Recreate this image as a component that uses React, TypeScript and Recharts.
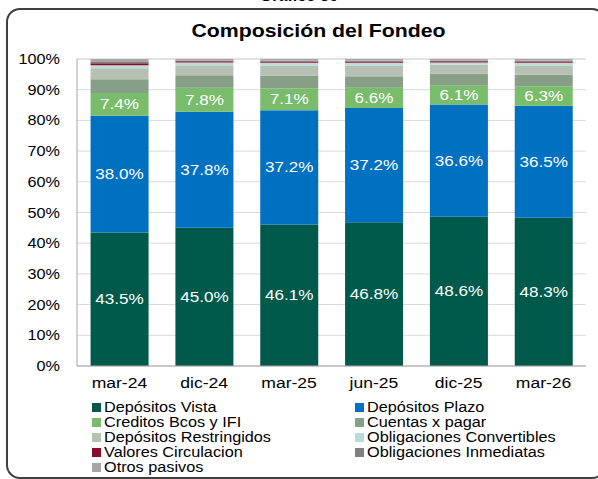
import { BarChart, Bar, XAxis, YAxis, CartesianGrid, LabelList } from 'recharts';

const periods = ['mar-24', 'dic-24', 'mar-25', 'jun-25', 'dic-25', 'mar-26'];

// shares in % of total funding, bottom to top of each stack
const depositosVista = [43.5, 45.0, 46.1, 46.8, 48.6, 48.3];
const depositosPlazo = [38.0, 37.8, 37.2, 37.2, 36.6, 36.5];
const creditosBcos = [7.4, 7.8, 7.1, 6.6, 6.1, 6.3];
const cuentasPagar = [4.5, 4.1, 4.2, 3.8, 3.9, 3.8];
const depositosRestringidos = [3.6, 3.3, 3.2, 3.4, 2.9, 2.9];
const obligacionesConvertibles = [1.0, 0.9, 1.0, 1.0, 0.8, 1.0];
const valoresCirculacion = [0.6, 0.4, 0.4, 0.4, 0.4, 0.4];
const obligacionesInmediatas = [0.4, 0.2, 0.2, 0.2, 0.2, 0.2];
const otrosPasivos = [1.0, 0.5, 0.6, 0.6, 0.5, 0.6];

const yTicks = [0, 10, 20, 30, 40, 50, 60, 70, 80, 90, 100];

const series = [
  { key: 'vista', name: 'Depósitos Vista', values: depositosVista, color: '#005a4b', label: true },
  { key: 'plazo', name: 'Depósitos Plazo', values: depositosPlazo, color: '#0070c0', label: true },
  { key: 'creditos', name: 'Creditos Bcos y IFI', values: creditosBcos, color: '#78bc6c', label: true },
  { key: 'cuentas', name: 'Cuentas x pagar', values: cuentasPagar, color: '#879e87', label: false },
  { key: 'restringidos', name: 'Depósitos Restringidos', values: depositosRestringidos, color: '#b6c1b4', label: false },
  { key: 'convertibles', name: 'Obligaciones Convertibles', values: obligacionesConvertibles, color: '#b8dcd8', label: false },
  { key: 'valores', name: 'Valores Circulacion', values: valoresCirculacion, color: '#8b0b2b', label: false },
  { key: 'inmediatas', name: 'Obligaciones Inmediatas', values: obligacionesInmediatas, color: '#7f7f7f', label: false },
  { key: 'otros', name: 'Otros pasivos', values: otrosPasivos, color: '#a6a6a6', label: false },
];

const chartData = periods.map((period, i) => {
  const row: Record<string, string | number> = { period };
  for (const s of series) row[s.key] = s.values[i];
  return row;
});

const font = '"Liberation Sans", Arial, sans-serif';

// the source picture is a bit stretched horizontally, so text gets a scaleX
const XTick = ({ x, y, payload }: any) => (
  <text transform={`translate(${x},${y}) scale(1.17,1)`} textAnchor="middle" dy={20} fontSize={15} fontFamily={font} fill="#000">
    {payload.value}
  </text>
);

const YTick = ({ x, y, payload }: any) => (
  <text transform={`translate(${x},${y}) scale(1.08,1)`} textAnchor="end" dy={5} fontSize={15} fontFamily={font} fill="#000">
    {payload.value}%
  </text>
);

const BarLabel = ({ x, y, width, height, value }: any) => (
  <text
    transform={`translate(${x + width / 2},${y + height / 2}) scale(1.14,1)`}
    textAnchor="middle"
    dy={5}
    fontSize={15}
    fontFamily={font}
    fill="#fff"
  >
    {`${Number(value).toFixed(1)}%`}
  </text>
);

export default function App() {
  return (
    <div style={{ position: 'absolute', left: 0, top: 0, width: 598, height: 479, overflow: 'hidden', background: '#fff', fontFamily: font }}>
      <div style={{ position: 'absolute', left: 0, top: -13, width: 598, textAlign: 'center', fontWeight: 'bold', fontSize: 16, color: '#000' }}>
        Gráfico 30
      </div>
      <div style={{ position: 'absolute', left: 6, top: 8, width: 600, height: 471, border: '2px solid #404040', borderRadius: 14, boxSizing: 'border-box' }} />
      <div style={{ position: 'absolute', left: 0, top: 20, width: 636, textAlign: 'center' }}>
        <span style={{ display: 'inline-block', fontWeight: 'bold', fontSize: 19, color: '#000', transform: 'scaleX(1.12)' }}>
          Composición del Fondeo
        </span>
      </div>
      <BarChart
        width={598}
        height={479}
        data={chartData}
        margin={{ top: 59, right: 12, bottom: 83, left: 0 }}
        barCategoryGap="16%"
        style={{ position: 'absolute', left: 0, top: 0 }}
      >
        <CartesianGrid vertical={false} stroke="#d9d9d9" />
        <XAxis dataKey="period" height={30} stroke="#a6a6a6" tickLine={false} tickSize={0} tickMargin={2} tick={<XTick />} />
        <YAxis
          width={77}
          domain={[0, 100]}
          ticks={yTicks}
          stroke="#a6a6a6"
          tickLine={false}
          tickSize={8}
          tickMargin={9}
          tick={<YTick />}
        />
        {series.map((s) => (
          <Bar key={s.key} dataKey={s.key} name={s.name} stackId="a" fill={s.color} isAnimationActive={false}>
            {s.label && <LabelList dataKey={s.key} content={<BarLabel />} />}
          </Bar>
        ))}
      </BarChart>
      <div style={{ position: 'absolute', left: 92, top: 400, display: 'grid', gridTemplateColumns: '263px 240px', fontSize: 14, lineHeight: '15px', color: '#000' }}>
        {series.map((s) => (
          <div key={s.key} style={{ display: 'flex', alignItems: 'center', whiteSpace: 'nowrap' }}>
            <span style={{ display: 'inline-block', width: 9, height: 9, background: s.color, marginRight: 3 }} />
            <span style={{ display: 'inline-block', transform: 'scaleX(1.16)', transformOrigin: 'left center' }}>{s.name}</span>
          </div>
        ))}
      </div>
    </div>
  );
}
